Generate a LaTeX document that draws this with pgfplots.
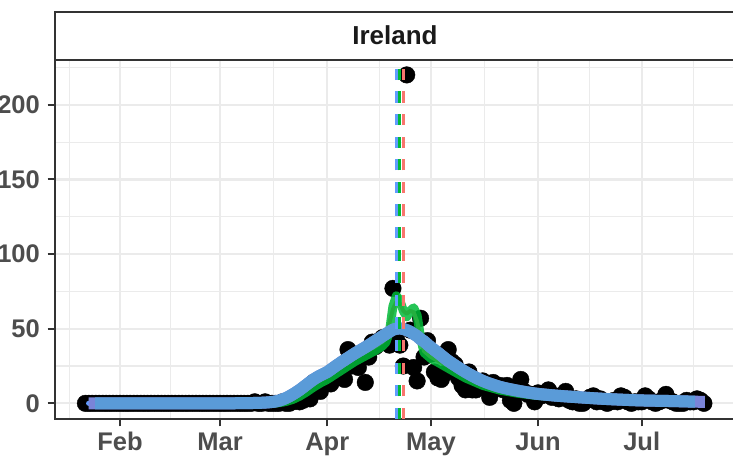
\documentclass[border=0pt]{standalone}
\usepackage{fontspec}
\setmainfont{Liberation Sans}
\usepackage{pgfplots}
\usepackage{pgfplotstable}
\pgfplotsset{compat=1.18}

\definecolor{gridc}{HTML}{EBEBEB}
\definecolor{framec}{HTML}{333333}
\definecolor{tickc}{HTML}{4D4D4D}
\definecolor{stripc}{HTML}{1A1A1A}
\definecolor{gred}{HTML}{F8766D}
\definecolor{ggreen}{HTML}{00BA38}
\definecolor{gblue}{HTML}{619CFF}
\definecolor{fitblue}{HTML}{5A9BD8}
\definecolor{fitpurple}{HTML}{7A84D8}

% daily deaths, x = days since 1 Feb
\pgfplotstableread[row sep=\\]{
day deaths\\
-10 0\\ -9 0\\ -8 0\\ -7 0\\ -6 0\\ -5 0\\ -4 0\\ -3 0\\ -2 0\\ -1 0\\
0 0\\ 1 0\\ 2 0\\ 3 0\\ 4 0\\ 5 0\\ 6 0\\ 7 0\\ 8 0\\ 9 0\\
10 0\\ 11 0\\ 12 0\\ 13 0\\ 14 0\\ 15 0\\ 16 0\\ 17 0\\ 18 0\\ 19 0\\
20 0\\ 21 0\\ 22 0\\ 23 0\\ 24 0\\ 25 0\\ 26 0\\ 27 0\\ 28 0\\ 29 0\\
30 0\\ 31 0\\ 32 0\\ 33 0\\ 34 0\\ 35 0\\ 36 0\\ 37 0\\ 38 0\\ 39 1\\
40 0\\ 41 0\\ 42 1\\ 43 0\\ 44 0\\ 45 0\\ 46 0\\ 47 1\\ 48 0\\ 49 0\\
50 1\\ 51 2\\ 52 1\\ 53 2\\ 54 10\\ 55 3\\ 56 14\\ 57 10\\ 58 8\\ 59 17\\
60 14\\ 61 13\\ 62 22\\ 63 17\\ 64 21\\ 65 16\\ 66 36\\ 67 25\\ 68 28\\ 69 24\\
70 33\\ 71 14\\ 72 31\\ 73 41\\ 74 38\\ 75 42\\ 76 44\\ 77 41\\ 78 39\\ 79 77\\
80 43\\ 81 39\\ 82 25\\ 83 220\\ 84 49\\ 85 24\\ 86 15\\ 87 57\\ 88 31\\ 89 42\\
90 33\\ 91 21\\ 92 17\\ 93 16\\ 94 20\\ 95 36\\ 96 28\\ 97 26\\ 98 17\\ 99 12\\
100 9\\ 101 21\\ 102 9\\ 103 9\\ 104 12\\ 105 15\\ 106 10\\ 107 4\\ 108 14\\ 109 10\\
110 12\\ 111 9\\ 112 12\\ 113 2\\ 114 0\\ 115 9\\ 116 16\\ 117 8\\ 118 6\\ 119 6\\
120 1\\ 121 7\\ 122 5\\ 123 6\\ 124 9\\ 125 4\\ 126 5\\ 127 3\\ 128 4\\ 129 8\\
130 2\\ 131 1\\ 132 3\\ 133 0\\ 134 0\\ 135 2\\ 136 4\\ 137 5\\ 138 1\\ 139 3\\
140 1\\ 141 0\\ 142 1\\ 143 2\\ 144 1\\ 145 5\\ 146 4\\ 147 1\\ 148 0\\ 149 1\\
150 1\\ 151 1\\ 152 5\\ 153 3\\ 154 1\\ 155 0\\ 156 1\\ 157 2\\ 158 6\\ 159 2\\
160 1\\ 161 0\\ 162 0\\ 163 0\\ 164 2\\ 165 1\\ 166 1\\ 167 3\\ 168 2\\ 169 0\\
}\deaths

% fitted curves
\pgfplotstableread[row sep=\\]{
x fit thin green red\\
-9 0 0 0 0\\
-7.2 0 0 0 0\\
10 0 0 0 0\\
30 0 0 0 0\\
40 0.3 0.3 0 0\\
44 0.9 1 0 0.2\\
46 1.8 2 0.4 0.8\\
48 3.5 3.8 1.2 2\\
50 6 6.3 2.6 3.8\\
52 9 9.3 4.8 6.3\\
54 12.5 12.8 7.6 9.3\\
56 16 16.4 10.8 12.6\\
58 18.7 19.2 13.6 15.7\\
60 21 21.6 16 18.2\\
62 24.3 25 19 21.3\\
64 27.5 28.3 22 24.3\\
66 30.5 31.5 25 27.3\\
68 33.5 34.6 28 30.3\\
70 36.2 37.6 30.5 33\\
72 39 40.6 33 35.6\\
74 42 43.8 35.5 38.2\\
76 45 47 38.5 41.2\\
77 46.5 48.5 41 43.5\\
78 48 50.2 48 54\\
79 49.3 51.5 65 63\\
80 50 52 72 68\\
81 50.2 51.6 69 67\\
82 49.8 50.6 62 62\\
83 49 49.4 58 60\\
84 48 48 62 62\\
85 46.5 46.4 64 61\\
86 45 44.8 59 55\\
87 43 43 44 43\\
88 41.5 41.3 34 35\\
90 37.5 37.3 30 31\\
92 34 33.8 27.5 28.6\\
95 28.5 28.3 23.5 25\\
100 21 20.8 17 18.8\\
105 15 14.9 12 13.6\\
110 11 11 8.8 10.2\\
115 8.5 8.5 6.8 7.9\\
120 6.6 6.6 5.4 6.3\\
125 5.4 5.4 4.6 5.2\\
130 4.5 4.5 3.8 4.3\\
140 3 3 2.6 3\\
150 2 2 1.7 2\\
160 1.5 1.5 1.2 1.5\\
166.4 1.1 1.1 0.9 1.1\\
169.3 1 1 0.8 1\\
}\fits

\begin{document}
\begin{tikzpicture}
\useasboundingbox (0,0) rectangle (733pt,456pt);
\begin{axis}[
  at={(55pt,37pt)}, anchor=south west,
  scale only axis, width=680pt, height=359pt,
  xmin=-18.8, xmax=178, ymin=-10.5, ymax=230,
  clip marker paths=true,
  axis line style={draw=framec, line width=2pt},
  tick pos=left, tick align=outside,
  major tick length=7.3pt, minor tick length=0pt,
  major tick style={draw=framec, line width=2pt},
  xtick={0,29,60,90,121,151},
  xticklabels={Feb,Mar,Apr,May,Jun,Jul},
  minor xtick={-14.5,14.5,44.5,75,105.5,136,166},
  ytick={0,50,100,150,200},
  minor ytick={25,75,125,175,225},
  grid=both,
  major grid style={draw=gridc, line width=2.2pt},
  minor grid style={draw=gridc, line width=1.1pt},
  ticklabel style={font=\fontsize{25.5}{30}\selectfont\bfseries, text=tickc, inner sep=0pt},
  /pgf/number format/assume math mode=true,
  xticklabel style={text height=18.5pt, text depth=5pt, yshift=-5.2pt},
  yticklabel style={xshift=-7.7pt},
]
\addplot[only marks, mark=*, mark size=8.3pt, black] table[x=day, y=deaths] {\deaths};

\addplot[gred, line width=4pt, line join=round] table[x=x, y=red] {\fits};
\addplot[ggreen, opacity=0.85, line width=9pt, line join=round] table[x=x, y=green] {\fits};
\addplot[gblue, line width=5pt, smooth, line join=round] table[x=x, y=thin] {\fits};
\addplot[fitpurple, line width=12pt, smooth] table[x=x, y=fit] {\fits};
\addplot[fitblue, line width=12pt, smooth, restrict x to domain=-7.3:166.5] table[x=x, y=fit] {\fits};

\addplot[gblue, line width=3pt, dash pattern=on 11.3pt off 11.3pt] coordinates {(80,-10.5) (80,230)};
\addplot[ggreen, line width=3pt, dash pattern=on 11.3pt off 11.3pt] coordinates {(81,-10.5) (81,230)};
\addplot[gred, line width=3pt, dash pattern=on 11.3pt off 11.3pt] coordinates {(82,-10.5) (82,230)};
\end{axis}
\draw[draw=framec, line width=2pt] (55pt,396pt) rectangle (736pt,444pt);
\node[anchor=base, font=\fontsize{26}{30}\selectfont\bfseries, text=stripc, inner sep=0pt] at (395pt,411pt) {Ireland};
\end{tikzpicture}
\end{document}
